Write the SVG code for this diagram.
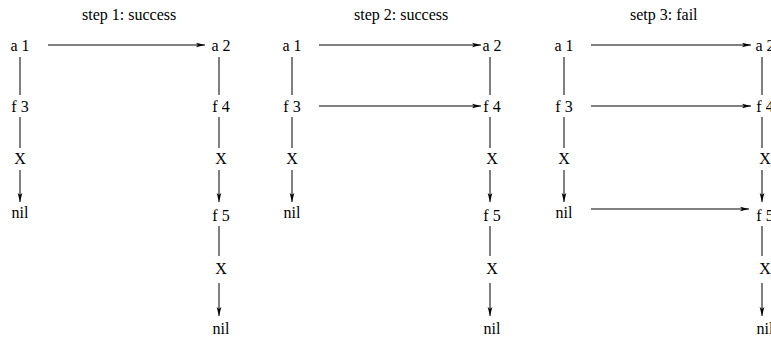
<svg xmlns="http://www.w3.org/2000/svg" width="771" height="340" viewBox="0 0 771 340">
  <style>
    .node text { text-anchor: middle; }
    .link { stroke: #000; stroke-width: 1; fill: none; }
    .arrow { stroke: #000; stroke-width: 1; fill: none; marker-end: url(#head); }
  </style>
  <defs>
    <marker id="head" markerUnits="userSpaceOnUse" markerWidth="10" markerHeight="6" viewBox="0 0 10 6" refX="9" refY="3" orient="auto">
      <path d="M0,0.7 L9,3 L0,5.3 L2,3 Z" fill="#000"/>
    </marker>
  </defs>
  <rect width="771" height="340" fill="#fff"/>

  <g font-family="'Liberation Serif', 'Times New Roman', Times, serif" font-size="16" fill="#000">
    <!-- step titles -->
    <text x="82" y="20">step 1: success</text>
    <text x="354" y="20">step 2: success</text>
    <text x="630" y="20">setp 3: fail</text>

    <!-- step 1 -->
    <g id="s1-a1" class="node"><text x="20" y="51">a 1</text></g>
    <g id="s1-f3" class="node"><text x="20" y="112">f 3</text></g>
    <g id="s1-x1" class="node"><text x="20" y="164">X</text></g>
    <g id="s1-nil1" class="node"><text x="20" y="218">nil</text></g>
    <g id="s1-a2" class="node"><text x="221" y="51">a 2</text></g>
    <g id="s1-f4" class="node"><text x="221" y="112">f 4</text></g>
    <g id="s1-x2" class="node"><text x="221" y="164">X</text></g>
    <g id="s1-f5" class="node"><text x="221" y="221">f 5</text></g>
    <g id="s1-x3" class="node"><text x="221" y="274">X</text></g>
    <g id="s1-nil2" class="node"><text x="221" y="334">nil</text></g>

    <!-- step 2 -->
    <g id="s2-a1" class="node"><text x="292" y="51">a 1</text></g>
    <g id="s2-f3" class="node"><text x="292" y="112">f 3</text></g>
    <g id="s2-x1" class="node"><text x="292" y="164">X</text></g>
    <g id="s2-nil1" class="node"><text x="292" y="218">nil</text></g>
    <g id="s2-a2" class="node"><text x="492" y="51">a 2</text></g>
    <g id="s2-f4" class="node"><text x="492" y="112">f 4</text></g>
    <g id="s2-x2" class="node"><text x="492" y="164">X</text></g>
    <g id="s2-f5" class="node"><text x="492" y="221">f 5</text></g>
    <g id="s2-x3" class="node"><text x="492" y="274">X</text></g>
    <g id="s2-nil2" class="node"><text x="492" y="334">nil</text></g>

    <!-- step 3 -->
    <g id="s3-a1" class="node"><text x="564" y="51">a 1</text></g>
    <g id="s3-f3" class="node"><text x="564" y="112">f 3</text></g>
    <g id="s3-x1" class="node"><text x="564" y="164">X</text></g>
    <g id="s3-nil1" class="node"><text x="564" y="218">nil</text></g>
    <g id="s3-a2" class="node"><text x="765" y="51">a 2</text></g>
    <g id="s3-f4" class="node"><text x="765" y="112">f 4</text></g>
    <g id="s3-x2" class="node"><text x="765" y="164">X</text></g>
    <g id="s3-f5" class="node"><text x="765" y="221">f 5</text></g>
    <g id="s3-x3" class="node"><text x="765" y="274">X</text></g>
    <g id="s3-nil2" class="node"><text x="765" y="334">nil</text></g>
  </g>

  <g id="connectors">
    <!-- step 1 -->
    <line class="link" x1="20" y1="57" x2="20" y2="95"/>
    <line class="link" x1="20" y1="117" x2="20" y2="148"/>
    <line class="arrow" x1="20" y1="170" x2="20" y2="202"/>
    <line class="link" x1="219" y1="57" x2="219" y2="95"/>
    <line class="link" x1="219" y1="117" x2="219" y2="148"/>
    <line class="arrow" x1="219" y1="170" x2="219" y2="202"/>
    <line class="link" x1="219" y1="226" x2="219" y2="256"/>
    <line class="arrow" x1="219" y1="283" x2="219" y2="316"/>
    <line class="arrow" x1="48" y1="45" x2="205" y2="45"/>

    <!-- step 2 -->
    <line class="link" x1="292" y1="57" x2="292" y2="95"/>
    <line class="link" x1="292" y1="117" x2="292" y2="148"/>
    <line class="arrow" x1="292" y1="170" x2="292" y2="202"/>
    <line class="link" x1="490" y1="57" x2="490" y2="95"/>
    <line class="link" x1="490" y1="117" x2="490" y2="148"/>
    <line class="arrow" x1="490" y1="170" x2="490" y2="202"/>
    <line class="link" x1="490" y1="226" x2="490" y2="256"/>
    <line class="arrow" x1="490" y1="283" x2="490" y2="316"/>
    <line class="arrow" x1="319" y1="45" x2="481" y2="45"/>
    <line class="arrow" x1="319" y1="106" x2="481" y2="106"/>

    <!-- step 3 -->
    <line class="link" x1="564" y1="57" x2="564" y2="95"/>
    <line class="link" x1="564" y1="117" x2="564" y2="148"/>
    <line class="arrow" x1="564" y1="170" x2="564" y2="202"/>
    <line class="link" x1="762" y1="57" x2="762" y2="95"/>
    <line class="link" x1="762" y1="117" x2="762" y2="148"/>
    <line class="arrow" x1="762" y1="170" x2="762" y2="202"/>
    <line class="link" x1="762" y1="226" x2="762" y2="256"/>
    <line class="arrow" x1="762" y1="283" x2="762" y2="316"/>
    <line class="arrow" x1="591" y1="45" x2="751" y2="45"/>
    <line class="arrow" x1="591" y1="106" x2="751" y2="106"/>
    <line class="arrow" x1="591" y1="209" x2="749" y2="209"/>
  </g>
</svg>
